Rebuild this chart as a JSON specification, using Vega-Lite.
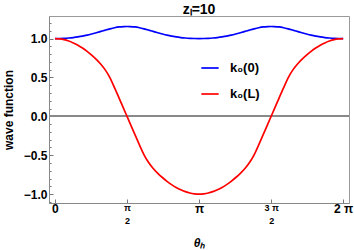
{
  "$schema": "https://vega.github.io/schema/vega-lite/v6.json",
  "width": 300,
  "height": 187,
  "autosize": "none",
  "padding": {"left": 49, "top": 16, "right": 5, "bottom": 47},
  "background": "white",
  "config": {
    "view": {"stroke": "#999", "strokeWidth": 1},
    "font": "Liberation Sans"
  },
  "title": {"text": "zₗ=10", "fontSize": 14, "fontWeight": "bold", "font": "Liberation Sans", "anchor": "middle", "offset": -1, "color": "black"},
  "datasets": {
    "curves": [
      {"theta": 0, "k0": 1.000, "kL": 1.000},
      {"theta": 0.1, "k0": 1.001, "kL": 0.996},
      {"theta": 0.2, "k0": 1.003, "kL": 0.986},
      {"theta": 0.3, "k0": 1.007, "kL": 0.968},
      {"theta": 0.4, "k0": 1.013, "kL": 0.944},
      {"theta": 0.5, "k0": 1.021, "kL": 0.914},
      {"theta": 0.6, "k0": 1.031, "kL": 0.878},
      {"theta": 0.7, "k0": 1.044, "kL": 0.835},
      {"theta": 0.8, "k0": 1.059, "kL": 0.786},
      {"theta": 0.9, "k0": 1.075, "kL": 0.732},
      {"theta": 1.0, "k0": 1.092, "kL": 0.670},
      {"theta": 1.1, "k0": 1.109, "kL": 0.594},
      {"theta": 1.2, "k0": 1.125, "kL": 0.495},
      {"theta": 1.3, "k0": 1.139, "kL": 0.366},
      {"theta": 1.4, "k0": 1.149, "kL": 0.232},
      {"theta": 1.5, "k0": 1.154, "kL": 0.096},
      {"theta": 1.5708, "k0": 1.155, "kL": 0},
      {"theta": 1.6416, "k0": 1.154, "kL": -0.096},
      {"theta": 1.7416, "k0": 1.149, "kL": -0.232},
      {"theta": 1.8416, "k0": 1.139, "kL": -0.366},
      {"theta": 1.9416, "k0": 1.125, "kL": -0.495},
      {"theta": 2.0416, "k0": 1.109, "kL": -0.594},
      {"theta": 2.1416, "k0": 1.092, "kL": -0.670},
      {"theta": 2.2416, "k0": 1.075, "kL": -0.732},
      {"theta": 2.3416, "k0": 1.059, "kL": -0.786},
      {"theta": 2.4416, "k0": 1.044, "kL": -0.835},
      {"theta": 2.5416, "k0": 1.031, "kL": -0.878},
      {"theta": 2.6416, "k0": 1.021, "kL": -0.914},
      {"theta": 2.7416, "k0": 1.013, "kL": -0.944},
      {"theta": 2.8416, "k0": 1.007, "kL": -0.968},
      {"theta": 2.9416, "k0": 1.003, "kL": -0.986},
      {"theta": 3.0416, "k0": 1.001, "kL": -0.996},
      {"theta": 3.1416, "k0": 1.000, "kL": -1.000},
      {"theta": 3.2416, "k0": 1.001, "kL": -0.996},
      {"theta": 3.3416, "k0": 1.003, "kL": -0.986},
      {"theta": 3.4416, "k0": 1.007, "kL": -0.968},
      {"theta": 3.5416, "k0": 1.013, "kL": -0.944},
      {"theta": 3.6416, "k0": 1.021, "kL": -0.914},
      {"theta": 3.7416, "k0": 1.031, "kL": -0.878},
      {"theta": 3.8416, "k0": 1.044, "kL": -0.835},
      {"theta": 3.9416, "k0": 1.059, "kL": -0.786},
      {"theta": 4.0416, "k0": 1.075, "kL": -0.732},
      {"theta": 4.1416, "k0": 1.092, "kL": -0.670},
      {"theta": 4.2416, "k0": 1.109, "kL": -0.594},
      {"theta": 4.3416, "k0": 1.125, "kL": -0.495},
      {"theta": 4.4416, "k0": 1.139, "kL": -0.366},
      {"theta": 4.5416, "k0": 1.149, "kL": -0.232},
      {"theta": 4.6416, "k0": 1.154, "kL": -0.096},
      {"theta": 4.7124, "k0": 1.155, "kL": 0},
      {"theta": 4.7832, "k0": 1.154, "kL": 0.096},
      {"theta": 4.8832, "k0": 1.149, "kL": 0.232},
      {"theta": 4.9832, "k0": 1.139, "kL": 0.366},
      {"theta": 5.0832, "k0": 1.125, "kL": 0.495},
      {"theta": 5.1832, "k0": 1.109, "kL": 0.594},
      {"theta": 5.2832, "k0": 1.092, "kL": 0.670},
      {"theta": 5.3832, "k0": 1.075, "kL": 0.732},
      {"theta": 5.4832, "k0": 1.059, "kL": 0.786},
      {"theta": 5.5832, "k0": 1.044, "kL": 0.835},
      {"theta": 5.6832, "k0": 1.031, "kL": 0.878},
      {"theta": 5.7832, "k0": 1.021, "kL": 0.914},
      {"theta": 5.8832, "k0": 1.013, "kL": 0.944},
      {"theta": 5.9832, "k0": 1.007, "kL": 0.968},
      {"theta": 6.0832, "k0": 1.003, "kL": 0.986},
      {"theta": 6.1832, "k0": 1.001, "kL": 0.996},
      {"theta": 6.2832, "k0": 1.000, "kL": 1.000}
    ]
  },
  "data": {"name": "curves"},
  "resolve": {"axis": {"y": "independent"}},
  "layer": [
    {
      "mark": {"type": "rule", "color": "#888", "strokeWidth": 1},
      "encoding": {
        "y": {
          "datum": 0, "type": "quantitative",
          "scale": {"domain": [-1.114, 1.29], "nice": false, "zero": false},
          "axis": {
            "orient": "left",
            "title": null,
            "labels": false,
            "domain": false,
            "grid": false,
            "values": [-1.1, -0.9, -0.8, -0.7, -0.6, -0.4, -0.3, -0.2, -0.1, 0.1, 0.2, 0.3, 0.4, 0.6, 0.7, 0.8, 0.9, 1.1, 1.2],
            "tickSize": -2,
            "tickColor": "#777"
          }
        }
      }
    },
    {
      "transform": [{"fold": ["k0", "kL"], "as": ["series", "v"]}],
      "mark": {"type": "line", "strokeWidth": 1.7, "interpolate": "monotone", "clip": true},
      "encoding": {
        "x": {
          "field": "theta", "type": "quantitative",
          "scale": {"domain": [-0.13, 6.41], "nice": false, "zero": false},
          "axis": {
            "title": "θₕ",
            "titleFont": "Liberation Sans", "titleFontSize": 12, "titleFontWeight": "bold", "titleFontStyle": "italic", "titleColor": "black",
            "titlePadding": 12,
            "values": [0, 1.5708, 3.1416, 4.7124, 6.2832],
            "labelExpr": "datum.value < 0.1 ? '0' : abs(datum.value - 1.5708) < 0.01 ? ['π', '2'] : abs(datum.value - 3.1416) < 0.01 ? 'π' : abs(datum.value - 4.7124) < 0.01 ? ['3 π', '2'] : '2 π'",
            "labelFont": "Liberation Sans",
            "labelFontWeight": "bold",
            "labelColor": "black",
            "labelFontSize": {"condition": {"test": "abs(datum.value - 1.5708) < 0.01 || abs(datum.value - 4.7124) < 0.01", "value": 9}, "value": 12},
            "labelLineHeight": 13,
            "labelFlush": false,
            "labelOverlap": false,
            "labelPadding": 4,
            "tickSize": -4,
            "tickColor": "#777",
            "domainColor": "#888",
            "grid": false
          }
        },
        "y": {
          "field": "v", "type": "quantitative",
          "scale": {"domain": [-1.114, 1.29], "nice": false, "zero": false},
          "axis": {
            "orient": "left",
            "title": "wave function",
            "titleFont": "Liberation Sans", "titleFontSize": 12, "titleFontWeight": "bold", "titleColor": "black",
            "titlePadding": 8,
            "values": [-1, -0.5, 0, 0.5, 1],
            "format": ".1f",
            "labelFont": "Liberation Sans",
            "labelFontWeight": "bold",
            "labelFontSize": 12,
            "labelColor": "black",
            "labelOverlap": false,
            "labelFlush": false,
            "labelPadding": 6,
            "tickSize": -4,
            "tickColor": "#777",
            "domainColor": "#888",
            "grid": false
          }
        },
        "color": {
          "field": "series", "type": "nominal",
          "scale": {"domain": ["k0", "kL"], "range": ["#0000ff", "#ff0000"]},
          "legend": {
            "title": null,
            "orient": "none",
            "legendX": 151,
            "legendY": 42,
            "padding": 0,
            "symbolType": "stroke",
            "symbolSize": 300,
            "symbolStrokeWidth": 1.7,
            "labelExpr": "datum.label == 'k0' ? 'k₀(0)' : 'k₀(L)'",
            "labelFont": "Liberation Sans",
            "labelFontSize": 13,
            "labelFontWeight": "bold",
            "labelColor": "black",
            "labelOffset": 10,
            "rowPadding": 9
          }
        }
      }
    }
  ]
}
